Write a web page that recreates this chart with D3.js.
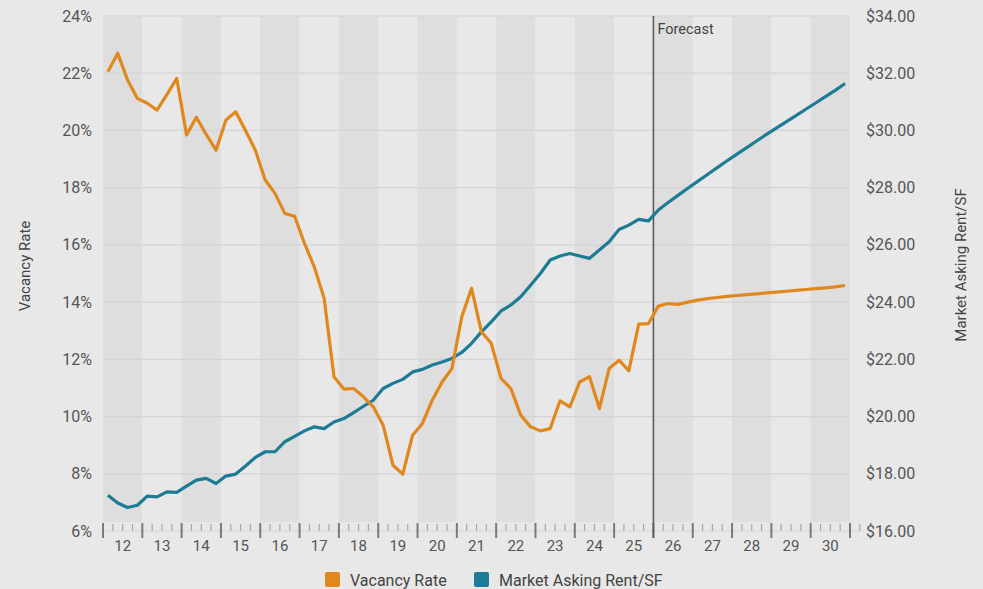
<!DOCTYPE html>
<html>
<head>
<meta charset="utf-8">
<script src="https://cdn.jsdelivr.net/npm/d3@7"></script>
<style>
  body { margin: 0; background: #e8e8e8; }
  svg { display: block; font-family: Roboto, "Noto Sans", sans-serif; }
</style>
</head>
<body>
<div class="draw"></div>
<script>
const width = 983
const height = 589
const margin = {top: 16, right: 133, bottom: 58, left: 103}

// year labels, one band per year, 4 quarters each
const years = ["12","13","14","15","16","17","18","19","20","21","22","23","24","25","26","27","28","29","30"]
const forecastYear = "26"

// quarterly vacancy rate (%) 2012 Q1 .. 2030 Q4
const vacancy = [
  22.05, 22.7, 21.76, 21.12, 20.95, 20.71, 21.25, 21.82,
  19.84, 20.46, 19.86, 19.31, 20.36, 20.65, 20.0, 19.31,
  18.27, 17.8, 17.1, 17.0, 16.05, 15.23, 14.13, 11.39,
  10.96, 10.98, 10.69, 10.34, 9.70, 8.30, 7.99, 9.35,
  9.76, 10.57, 11.21, 11.68, 13.49, 14.48, 12.96, 12.56,
  11.33, 10.98, 10.05, 9.64, 9.50, 9.58, 10.55, 10.34,
  11.21, 11.39, 10.28, 11.68, 11.97, 11.60, 13.23, 13.25,
  13.86, 13.95, 13.92, 14.0, 14.07, 14.12, 14.16, 14.2,
  14.23, 14.26, 14.29, 14.32, 14.35, 14.38, 14.41, 14.44,
  14.47, 14.5, 14.53, 14.58
]

// quarterly market asking rent ($/SF)
const rent = [
  17.25, 16.98, 16.82, 16.90, 17.22, 17.19, 17.37, 17.35,
  17.57, 17.78, 17.84, 17.66, 17.92, 17.99, 18.27, 18.57,
  18.77, 18.77, 19.12, 19.31, 19.50, 19.64, 19.58, 19.81,
  19.93, 20.14, 20.36, 20.57, 20.98, 21.16, 21.30, 21.56,
  21.65, 21.80, 21.91, 22.03, 22.24, 22.56, 22.96, 23.31,
  23.69, 23.90, 24.19, 24.59, 25.0, 25.47, 25.61, 25.70,
  25.61, 25.53, 25.82, 26.11, 26.54, 26.69, 26.89, 26.84,
  27.22, 27.48, 27.73, 27.98, 28.22, 28.46, 28.70, 28.94,
  29.17, 29.40, 29.63, 29.86, 30.08, 30.30, 30.52, 30.74,
  30.96, 31.18, 31.40, 31.64
]

const vacancyTicks = [6, 8, 10, 12, 14, 16, 18, 20, 22, 24]
const rentTicks = [16, 18, 20, 22, 24, 26, 28, 30, 32, 34]

const orange = "#e0881e"
const teal = "#1d7b95"
const plotBottom = height - margin.bottom   // 531
const bandBottom = plotBottom - 9

let svg = d3.select("div.draw")
    .append("svg")
    .attr("width", width)
    .attr("height", height)

svg.append("rect")
    .attr("width", width)
    .attr("height", height)
    .style("fill", "#e8e8e8")

let nq = years.length * 4
let x = d3.scaleLinear().domain([0, nq]).range([margin.left, width - margin.right])
let yLeft = d3.scaleLinear().domain([6, 24]).range([plotBottom, margin.top])
let yRight = d3.scaleLinear().domain([16, 34]).range([plotBottom, margin.top])

// alternating year bands
svg.selectAll("rect.band")
    .data(years)
    .enter()
    .append("rect")
    .attr("class", "band")
    .attr("x", (d, i) => x(i * 4))
    .attr("y", margin.top)
    .attr("width", x(4) - x(0))
    .attr("height", bandBottom - margin.top)
    .style("fill", (d, i) => i % 2 === 0 ? "#dedede" : "#e8e8e8")

// horizontal gridlines
svg.selectAll("line.grid")
    .data(vacancyTicks.filter(d => d > 6))
    .enter()
    .append("line")
    .attr("class", "grid")
    .attr("x1", x(0))
    .attr("x2", x(nq))
    .attr("y1", d => yLeft(d))
    .attr("y2", d => yLeft(d))
    .style("stroke", "#d4d4d4")
    .style("stroke-width", 1.2)

// baseline + quarter ticks
svg.append("line")
    .attr("x1", x(0)).attr("x2", x(nq) + 10)
    .attr("y1", plotBottom).attr("y2", plotBottom)
    .style("stroke", "#d6d6d6")

svg.selectAll("line.qtick")
    .data(d3.range(0, nq + 2))
    .enter()
    .append("line")
    .attr("class", "qtick")
    .attr("x1", d => x(d)).attr("x2", d => x(d))
    .attr("y1", d => d % 4 === 0 ? plotBottom - 8 : plotBottom - 7)
    .attr("y2", d => d % 4 === 0 ? plotBottom + 7 : plotBottom)
    .style("stroke", d => d % 4 === 0 ? "#7a7a7a" : "#a8a8a8")
    .style("stroke-width", d => d % 4 === 0 ? 2 : 1.2)

svg.selectAll("text.year")
    .data(years)
    .enter()
    .append("text")
    .attr("class", "year")
    .attr("x", (d, i) => x(i * 4 + 2))
    .attr("y", plotBottom + 20)
    .attr("text-anchor", "middle")
    .style("font-size", "15px")
    .style("fill", "#555")
    .text(d => d)

// left axis labels
svg.selectAll("text.ltick")
    .data(vacancyTicks)
    .enter()
    .append("text")
    .attr("class", "ltick")
    .attr("x", 92)
    .attr("y", d => yLeft(d))
    .attr("dy", "0.35em")
    .attr("text-anchor", "end")
    .style("font-size", "16px")
    .style("fill", "#555")
    .text(d => d + "%")

// right axis labels
svg.selectAll("text.rtick")
    .data(rentTicks)
    .enter()
    .append("text")
    .attr("class", "rtick")
    .attr("x", 866)
    .attr("y", d => yRight(d))
    .attr("dy", "0.35em")
    .style("font-size", "16px")
    .style("fill", "#555")
    .text(d => "$" + d3.format(".2f")(d))

// axis titles
svg.append("text")
    .attr("transform", "translate(30,266) rotate(-90)")
    .attr("text-anchor", "middle")
    .style("font-size", "15px")
    .style("fill", "#444")
    .text("Vacancy Rate")

svg.append("text")
    .attr("transform", "translate(966,265) rotate(-90)")
    .attr("text-anchor", "middle")
    .style("font-size", "15px")
    .style("fill", "#444")
    .text("Market Asking Rent/SF")

// forecast marker
let fx = x(years.indexOf(forecastYear) * 4)
svg.append("line")
    .attr("x1", fx).attr("x2", fx)
    .attr("y1", margin.top).attr("y2", plotBottom + 7)
    .style("stroke", "#555")
    .style("stroke-width", 1.5)

svg.append("text")
    .attr("x", fx + 4)
    .attr("y", margin.top + 18)
    .style("font-size", "14.5px")
    .style("fill", "#444")
    .text("Forecast")

// series lines
let lineLeft = d3.line()
    .x((d, i) => x(i + 0.5))
    .y(d => yLeft(d))

let lineRight = d3.line()
    .x((d, i) => x(i + 0.5))
    .y(d => yRight(d))

svg.append("path")
    .attr("d", lineRight(rent))
    .style("fill", "none")
    .style("stroke", teal)
    .style("stroke-width", 3.2)
    .style("stroke-linejoin", "round")

svg.append("path")
    .attr("d", lineLeft(vacancy))
    .style("fill", "none")
    .style("stroke", orange)
    .style("stroke-width", 3.2)
    .style("stroke-linejoin", "round")

// legend
let legend = [
  {label: "Vacancy Rate", color: orange, x: 325},
  {label: "Market Asking Rent/SF", color: teal, x: 474}
]

let items = svg.selectAll("g.legend")
    .data(legend)
    .enter()
    .append("g")
    .attr("class", "legend")
    .attr("transform", d => "translate(" + d.x + ",572)")

items.append("rect")
    .attr("width", 15)
    .attr("height", 15)
    .attr("rx", 2)
    .style("fill", d => d.color)

items.append("text")
    .attr("x", 25)
    .attr("y", 8)
    .attr("dy", "0.35em")
    .style("font-size", "16px")
    .style("fill", "#444")
    .text(d => d.label)
</script>
</body>
</html>
